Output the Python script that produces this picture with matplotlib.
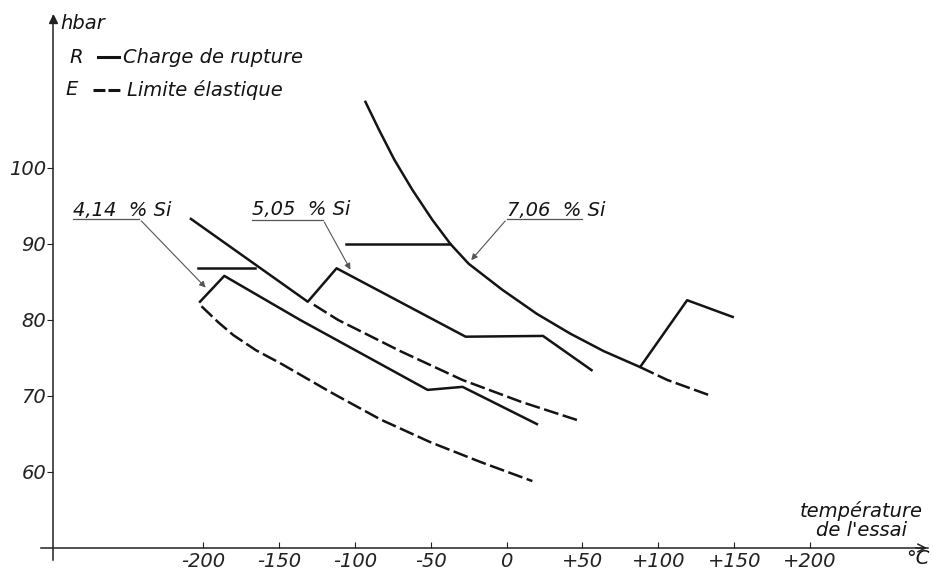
import matplotlib

matplotlib.use("Agg")
from matplotlib import pyplot as plt

plt.rcParams["font.family"] = "DejaVu Sans"
plt.rcParams["font.style"] = "italic"

# temperature (°C) / strength (hbar)
# 4,14 % Si
r414_t = [-202, -186, -136, -52, -29, 20]
r414_v = [82.4, 85.8, 80.0, 70.8, 71.2, 66.3]
e414_t = [-201, -190, -180, -165, -149, -116, -83, -50, -17, 17]
e414_v = [81.8, 79.7, 78.0, 76.0, 74.3, 70.5, 66.9, 63.9, 61.3, 58.8]

# 5,05 % Si
r505_t = [-208, -131, -112, -27, 24, 56]
r505_v = [93.3, 82.4, 86.8, 77.8, 77.9, 73.4]
e505_t = [-127, -111, -70, -29, 10, 47]
e505_v = [82.0, 80.0, 75.9, 72.1, 69.2, 66.8]

# 7,06 % Si
r706_t = [-93, -84, -74, -62, -49, -37, -25, -3, 20, 42, 64, 88, 119, 149]
r706_v = [108.7, 105.0, 101.1, 97.1, 93.2, 90.0, 87.4, 84.0, 80.8, 78.2,
          75.9, 73.8, 82.6, 80.4]
e706_t = [88, 106, 135]
e706_v = [73.8, 72.1, 70.0]

# horizontal marks
h1_t = [-203, -166]
h1_v = [86.8, 86.8]
h2_t = [-106, -37]
h2_v = [90.0, 90.0]

xticks = [-200, -150, -100, -50, 0, 50, 100, 150, 200]
xlabels = ["-200", "-150", "-100", "-50", "0", "+50", "+100", "+150", "+200"]
yticks = [60, 70, 80, 90, 100]

ink = "#141414"
lw = 1.8
dash = (0, (6, 1.8))
fs = 14

fig = plt.figure(figsize=(9.33, 5.71), dpi=100)
ax = fig.add_axes([0, 0, 1, 1])
ax.set_xlim(-333.8, 281.0)
ax.set_ylim(46.97, 122.1)

for t, v in [(r414_t, r414_v), (r505_t, r505_v), (r706_t, r706_v),
             (h1_t, h1_v), (h2_t, h2_v)]:
    ax.plot(t, v, "-", color=ink, lw=lw, solid_joinstyle="round")
for t, v in [(e414_t, e414_v), (e505_t, e505_v), (e706_t, e706_v)]:
    ax.plot(t, v, color=ink, lw=lw, linestyle=dash)

# axes
for s in ["top", "right"]:
    ax.spines[s].set_visible(False)
ax.spines["left"].set_position(("data", -298.9))
ax.spines["bottom"].set_position(("data", 50))
ax.spines["left"].set_bounds(48.4, 120)
ax.spines["bottom"].set_bounds(-306.8, 277.7)
for s in ["left", "bottom"]:
    ax.spines[s].set_linewidth(1.1)
    ax.spines[s].set_color("#222222")
ax.plot([-298.9], [119.6], marker="^", ms=6, color="#222222", clip_on=False)
ax.annotate("", xy=(279, 50), xytext=(268, 50),
            arrowprops=dict(arrowstyle="->", lw=1.1, color="#222222",
                            mutation_scale=14))

ax.set_xticks(xticks)
ax.set_xticklabels(xlabels)
ax.set_yticks(yticks)
ax.tick_params(axis="x", direction="in", length=4, pad=3, labelsize=fs,
               colors="#222222")
ax.tick_params(axis="y", direction="out", length=4, pad=1, labelsize=fs,
               colors="#222222")

# labels
txt = dict(color=ink, fontsize=fs, style="italic")
ax.text(-294, 118.3, "hbar", ha="left", va="baseline", **txt)
ax.text(-288, 114.6, "R", ha="left", va="center", **txt)
ax.plot([-269.5, -255.7], [114.6, 114.6], color=ink, lw=2.2)
ax.text(-252.7, 114.6, "Charge de rupture", ha="left", va="center", **txt)
ax.text(-290.5, 110.3, "E", ha="left", va="center", **txt)
ax.plot([-272.5, -254.7], [110.3, 110.3], color=ink, lw=2.2,
        linestyle=(0, (3.9, 1.0)))
ax.text(-250, 110.3, "Limite élastique", ha="left", va="center", **txt)

ax.text(234, 51.1, "température\nde l'essai", ha="center", va="bottom",
        linespacing=0.95, **txt)
ax.text(271.2, 48.55, "°C", ha="center", va="center", **txt)

# alloy labels with leaders
lead = dict(arrowstyle="-|>", lw=0.8, color="#555555", mutation_scale=9)
ax.text(-286, 93.7, "4,14  % Si", ha="left", va="baseline", **txt)
ax.plot([-286, -242], [93.3, 93.3], color="#555555", lw=0.9)
ax.annotate("", xy=(-197, 84.0), xytext=(-242, 93.3), arrowprops=lead)

ax.text(-168, 93.8, "5,05  % Si", ha="left", va="baseline", **txt)
ax.plot([-168, -121], [93.2, 93.2], color="#555555", lw=0.9)
ax.annotate("", xy=(-102, 86.3), xytext=(-121, 93.2), arrowprops=lead)

ax.text(0.3, 93.7, "7,06  % Si", ha="left", va="baseline", **txt)
ax.plot([0.3, 50], [93.3, 93.3], color="#555555", lw=0.9)
ax.annotate("", xy=(-24.5, 87.6), xytext=(0.3, 93.3), arrowprops=lead)

plt.savefig("out.png", dpi=100)
